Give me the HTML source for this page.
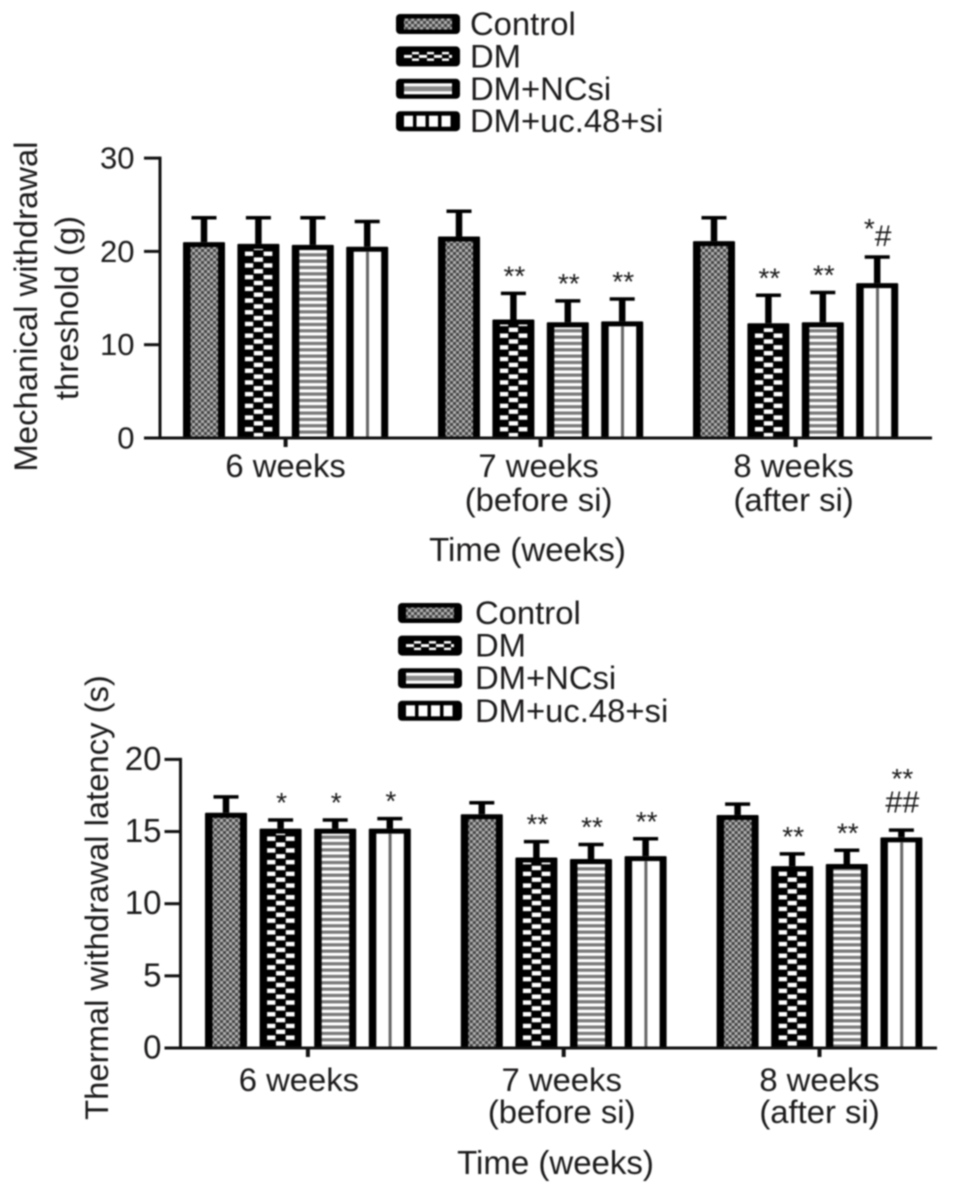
<!DOCTYPE html>
<html lang="en">
<head>
<meta charset="utf-8">
<title>Mechanical and thermal withdrawal charts</title>
<style>
html,body{margin:0;padding:0;background:#fff;width:969px;height:1194px;overflow:hidden}
svg{display:block;filter:blur(.7px)}
text{font-family:"Liberation Sans",sans-serif;fill:#1c1a1b}
</style>
</head>
<body>
<svg id="figure" xmlns="http://www.w3.org/2000/svg" width="969" height="1194" viewBox="0 0 969 1194">
<defs>
<pattern id="p0" width="6" height="6" patternUnits="userSpaceOnUse">
<rect width="6" height="6" fill="#b0b0b0"/>
<rect x="0" y="0" width="3" height="3" fill="#444"/>
<rect x="3" y="3" width="3" height="3" fill="#444"/>
</pattern>
<pattern id="p1" width="19.5" height="11.7" patternUnits="userSpaceOnUse">
<rect width="19.5" height="11.7" fill="#000"/>
<rect x="0" y="0" width="4.600" height="4.400" fill="#fff"/>
<rect x="14.900" y="0" width="4.600" height="4.400" fill="#fff"/>
<rect x="5.200" y="5.850" width="9.100" height="4.400" fill="#fff"/>
</pattern>
<pattern id="p2" width="10" height="6.330" patternUnits="userSpaceOnUse">
<rect width="10" height="6.330" fill="#fff"/>
<rect y="0" width="10" height="3.300" fill="#7a7a7a"/>
</pattern>
<pattern id="legend-dm" width="15" height="11" patternUnits="userSpaceOnUse">
<rect width="15" height="11" fill="#000"/>
<rect x="0" y="4" width="8" height="3" fill="#fff"/>
<rect x="8" y="1" width="7" height="2.500" fill="#fff"/>
<rect x="8" y="7.500" width="7" height="2.500" fill="#fff"/>
</pattern>
</defs>
</svg>
<script>
const seriesNames = ['Control', 'DM', 'DM+NCsi', 'DM+uc.48+si'];
const groupLinesA = ['6 weeks', '7 weeks', '8 weeks'];
const groupLinesB = ['', '(before si)', '(after si)'];

const mechanicalTicks = [0, 10, 20, 30];
const mechanicalControl = [21.0, 21.6, 21.1];
const mechanicalDM = [20.8, 12.7, 12.3];
const mechanicalNCsi = [20.7, 12.4, 12.4];
const mechanicalUc48 = [20.5, 12.5, 16.6];
const mechanicalControlErr = [2.6, 2.7, 2.5];
const mechanicalDMErr = [2.8, 2.8, 3.0];
const mechanicalNCsiErr = [2.9, 2.3, 3.2];
const mechanicalUc48Err = [2.7, 2.4, 2.8];
const mechanicalMarks = [['', '', '', ''], ['', '**', '**', '**'], ['', '**', '**', '*#']];

const thermalTicks = [0, 5, 10, 15, 20];
const thermalControl = [16.3, 16.2, 16.15];
const thermalDM = [15.2, 13.2, 12.6];
const thermalNCsi = [15.2, 13.1, 12.75];
const thermalUc48 = [15.2, 13.3, 14.6];
const thermalControlErr = [1.1, 0.8, 0.75];
const thermalDMErr = [0.6, 1.1, 0.85];
const thermalNCsiErr = [0.6, 1.0, 0.95];
const thermalUc48Err = [0.7, 1.2, 0.5];
const thermalMarks = [['', '*', '*', '*'], ['', '**', '**', '**'], ['', '**', '**', '**|##']];

const svg = document.getElementById('figure');
const NS = 'http://www.w3.org/2000/svg';

function make(tag, attrs, parent) {
  const el = document.createElementNS(NS, tag);
  for (const k in attrs) el.setAttribute(k, attrs[k]);
  parent.appendChild(el);
  return el;
}

function drawBar(g, cx, yTop, yBase, s) {
  g.setAttribute('transform', 'translate(' + cx + ',0)');
  make('rect', { x: -21, y: yTop, width: 42, height: yBase - yTop, fill: '#000', rx: 1 }, g);
  const fill = s === 3 ? '#fff' : 'url(#p' + s + ')';
  make('rect', { x: -13.5, y: yTop + 5, width: 27.5, height: Math.max(0, yBase - yTop - 5), fill: fill }, g);
  if (s === 3) {
    make('line', { x1: 0.3, x2: 0.3, y1: yTop + 5, y2: yBase, stroke: '#666', 'stroke-width': 3 }, g);
  }
}

function drawMark(root, mark, cx, top) {
  if (mark === '*#') {
    const t = make('text', { x: cx + 0.5, y: top - 11, 'text-anchor': 'middle' }, root);
    
    
    const a = make('tspan', { 'font-size': 28, dy: -8 }, t);
    a.textContent = '*';
    const b = make('tspan', { 'font-size': 30, dy: 8 }, t);
    b.textContent = '#';
  } else if (mark.indexOf('|') >= 0) {
    const parts = mark.split('|');
    const t1 = make('text', { x: cx + 1, y: top - 42, 'text-anchor': 'middle', 'font-size': 28 }, root);
    
    
    t1.textContent = parts[0];
    const t2 = make('text', { x: cx + 1, y: top - 17.5, 'text-anchor': 'middle', 'font-size': 30.5 }, root);
    
    
    t2.textContent = parts[1];
  } else if (mark) {
    const t = make('text', { x: cx + 1, y: top - 8, 'text-anchor': 'middle', 'font-size': 28 }, root);
    
    
    t.textContent = mark;
  }
}

function drawLegendSwatch(entry, x, cy, s) {
  make('rect', { x: x, y: cy - 10, width: 64, height: 20, fill: '#000', rx: 4 }, entry);
  const ix = x + 8, iy = cy - 5.5, iw = 48, ih = 11;
  if (s === 0) {
    make('rect', { x: ix, y: iy, width: iw, height: ih, fill: 'url(#p0)' }, entry);
  } else if (s === 1) {
    const g = make('g', { transform: 'translate(' + ix + ',' + iy + ')' }, entry);
    make('rect', { x: 0, y: 0, width: iw, height: ih, fill: 'url(#legend-dm)' }, g);
  } else if (s === 2) {
    make('rect', { x: ix, y: iy, width: iw, height: ih, fill: '#fff' }, entry);
    make('rect', { x: ix, y: cy - 2.5, width: iw, height: 5, fill: '#8a8a8a' }, entry);
  } else {
    for (let k = 0; k < 4; k++) {
      make('rect', { x: ix + k * 12.5, y: iy, width: 9, height: ih, fill: '#fff' }, entry);
    }
  }
}

function drawChart(c) {
  const root = make('g', {}, svg);
  
  
  const y = v => c.y0 - v * c.pxPerUnit;
  const barX = (g, s) => c.firstBar + g * c.groupStep + s * c.barStep;
  const yMax = c.ticks[c.ticks.length - 1];

  c.values.forEach((vals, s) => {
    vals.forEach((v, g) => {
      const cx = barX(g, s);
      const top = y(v + c.errors[s][g]);
      const eb = make('g', {}, root);
      
      
      make('line', { x1: cx, x2: cx, y1: top, y2: y(v), stroke: '#000', 'stroke-width': 6.5 }, eb);
      make('line', { x1: cx - 12.5, x2: cx + 12.5, y1: top, y2: top, stroke: '#000', 'stroke-width': 3.5 }, eb);
      const bar = make('g', {}, root);
      
      
      drawBar(bar, cx, y(v), c.y0, s);
      drawMark(root, c.marks[g][s], cx, top);
    });
  });

  const yAxis = make('line', { x1: c.axisX, x2: c.axisX, y1: y(yMax) - 1.5, y2: c.y0 + 1.5, stroke: '#111', 'stroke-width': 3 }, root);
  
  
  const xAxis = make('line', { x1: c.axisX - 16, x2: c.xEnd, y1: c.y0, y2: c.y0, stroke: '#111', 'stroke-width': 3 }, root);
  
  

  c.ticks.forEach(v => {
    make('line', { x1: c.axisX - 16, x2: c.axisX, y1: y(v), y2: y(v), stroke: '#111', 'stroke-width': 3 }, root);
    const t = make('text', { x: c.yLabelX, y: y(v) + 10.5, 'text-anchor': 'end', 'font-size': c.yLabelSize }, root);
    
    
    t.textContent = v;
  });

  groupLinesA.forEach((label, g) => {
    const cx = barX(g, 1.5);
    make('line', { x1: cx, x2: cx, y1: c.y0, y2: c.y0 + 9, stroke: '#111', 'stroke-width': 4 }, root);
    const t1 = make('text', { x: cx + c.labelShift[g], y: c.y0 + c.label1Dy, 'text-anchor': 'middle', 'font-size': 32.8 }, root);
    
    
    t1.textContent = label;
    if (groupLinesB[g]) {
      const t2 = make('text', { x: cx + c.labelShift[g], y: c.y0 + c.label2Dy, 'text-anchor': 'middle', 'font-size': 32.8 }, root);
      
      
      t2.textContent = groupLinesB[g];
    }
  });

  const xt = make('text', { x: c.xTitleX, y: c.y0 + c.xTitleDy, 'text-anchor': 'middle', 'font-size': 33 }, root);
  
  
  xt.textContent = 'Time (weeks)';

  c.yTitle.forEach((line, i) => {
    const t = make('text', {
      transform: 'translate(' + c.yTitleX[i] + ',' + c.yTitleY[i] + ') rotate(-90)',
      'text-anchor': 'middle', 'font-size': 32.8
    }, root);
    
    
    t.textContent = line;
  });

  seriesNames.forEach((name, s) => {
    const ly = c.legendY + s * c.legendStep;
    const entry = make('g', {}, root);
    
    
    drawLegendSwatch(entry, c.legendX, ly, s);
    const t = make('text', { x: c.legendTextX, y: ly + 11, 'font-size': 32.8 }, entry);
    t.textContent = name;
  });
}

drawChart({
  name: 'mechanical-threshold-chart',
  ticks: mechanicalTicks,
  values: [mechanicalControl, mechanicalDM, mechanicalNCsi, mechanicalUc48],
  errors: [mechanicalControlErr, mechanicalDMErr, mechanicalNCsiErr, mechanicalUc48Err],
  marks: mechanicalMarks,
  y0: 438, pxPerUnit: 9.33, axisX: 160, xEnd: 932,
  firstBar: 204, groupStep: 255, barStep: 54.4,
  yLabelX: 134.5, yLabelSize: 31,
  labelShift: [0, -2, -2], label1Dy: 39, label2Dy: 73,
  xTitleX: 527.5, xTitleDy: 123,
  yTitle: ['Mechanical withdrawal', 'threshold (g)'], yTitleX: [37, 78], yTitleY: [306.5, 308],
  legendX: 396, legendTextX: 470, legendY: 24, legendStep: 32.4
});

drawChart({
  name: 'thermal-latency-chart',
  ticks: thermalTicks,
  values: [thermalControl, thermalDM, thermalNCsi, thermalUc48],
  errors: [thermalControlErr, thermalDMErr, thermalNCsiErr, thermalUc48Err],
  marks: thermalMarks,
  y0: 1048, pxPerUnit: 14.43, axisX: 180.5, xEnd: 937,
  firstBar: 226, groupStep: 255.8, barStep: 54.6,
  yLabelX: 161.5, yLabelSize: 33,
  labelShift: [-9, -2, 0], label1Dy: 43, label2Dy: 75,
  xTitleX: 555.5, xTitleDy: 126,
  yTitle: ['Thermal withdrawal latency (s)'], yTitleX: [108], yTitleY: [897.5],
  legendX: 398, legendTextX: 475, legendY: 613, legendStep: 32.6
});
</script>
</body>
</html>
